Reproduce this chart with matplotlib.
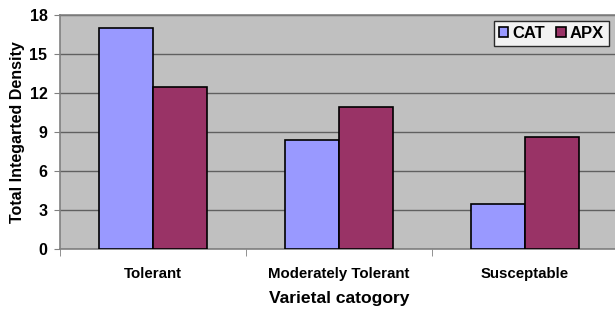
import matplotlib.pyplot as plt
import numpy as np

categories = ["Tolerant", "Moderately Tolerant", "Susceptable"]
cat_values = [17.0, 8.35, 3.5]
apx_values = [12.45, 10.95, 8.65]
y_ticks = [0, 3, 6, 9, 12, 15, 18]

plt.rcParams["font.family"] = ["Liberation Sans", "DejaVu Sans"]
plt.rcParams["font.weight"] = "bold"

fig = plt.figure(figsize=(6.15, 3.12), dpi=100)
ax = fig.add_axes([60 / 615, 63 / 312, 558 / 615, 234 / 312])
ax.set_facecolor("#c0c0c0")

x = np.arange(len(categories))
w = 0.29
ax.bar(x - w / 2, cat_values, w, color="#9999ff", edgecolor="black", lw=1.2,
       label="CAT", zorder=3)
ax.bar(x + w / 2, apx_values, w, color="#993366", edgecolor="black", lw=1.2,
       label="APX", zorder=3)

ax.set_xlim(-0.5, len(categories) - 0.5)
ax.set_ylim(0, 18)
ax.set_yticks(y_ticks)
ax.tick_params(axis="y", labelsize=11.5, length=4, color="#808080", pad=5)
ax.set_xticks(x)
ax.set_xticklabels(categories, fontsize=10.8, fontweight="bold")
ax.tick_params(axis="x", length=0, pad=13)
ax.set_xticks(np.arange(len(categories) + 1) - 0.5, minor=True)
ax.tick_params(axis="x", which="minor", length=5, color="#808080")
ax.grid(axis="y", color="#606060", lw=1, zorder=1)

for s in ax.spines.values():
    s.set_color("#808080")
    s.set_linewidth(1.2)

ax.set_ylabel("Total Integarted Density", fontsize=11.5, fontweight="bold", labelpad=3)
ax.set_xlabel("Varietal catogory", fontsize=12.6, fontweight="bold", labelpad=7)

leg = ax.legend(loc="upper right", bbox_to_anchor=(0.984, 0.976), ncol=2,
                fontsize=12, frameon=True, fancybox=False, handlelength=0.55,
                handleheight=0.55, handletextpad=0.25, columnspacing=0.7,
                borderpad=0.3, borderaxespad=0)
leg.get_frame().set_edgecolor("black")
leg.get_frame().set_linewidth(1)

plt.savefig("out.png", dpi=100)
